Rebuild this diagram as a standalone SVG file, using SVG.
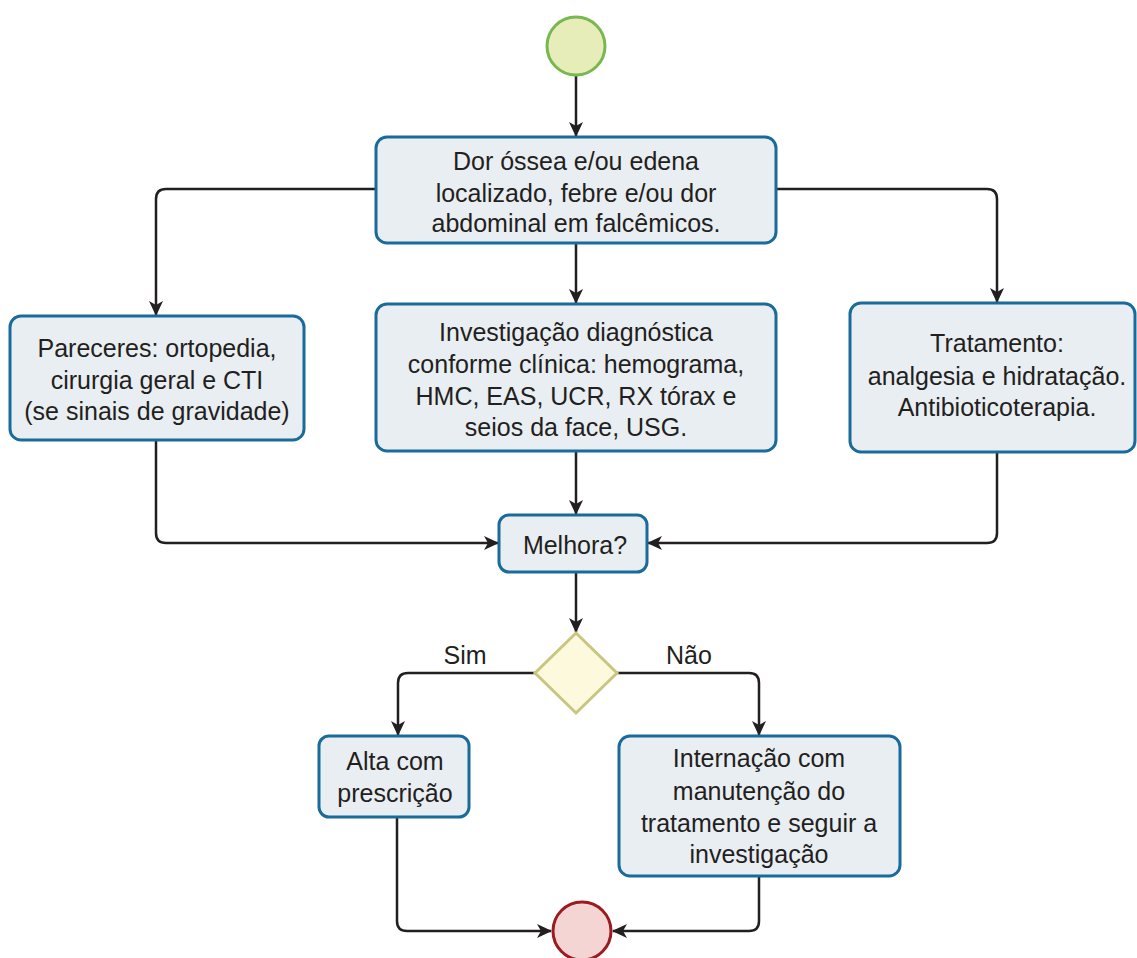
<svg xmlns="http://www.w3.org/2000/svg" width="1137" height="958" viewBox="0 0 1137 958">
  <defs>
    <marker id="arrow" markerUnits="userSpaceOnUse" markerWidth="16" markerHeight="14" refX="14" refY="7" orient="auto">
      <path d="M0,0 L15,7 L0,14 L4,7 Z" fill="#231f20"/>
    </marker>
    <style>
      .box { fill: #e9eef3; stroke: #1a6b9a; stroke-width: 3; }
      .lbl { font-family: "Liberation Sans", Arial, sans-serif; font-size: 25px; fill: #231f20; text-anchor: middle; }
      .edge { fill: none; stroke: #231f20; stroke-width: 2.5; marker-end: url(#arrow); }
      .line { fill: none; stroke: #231f20; stroke-width: 2.5; }
    </style>
  </defs>
  <rect width="1137" height="958" fill="#ffffff"/>

  <g id="connectors">
    <path class="edge" d="M576,76 V136"/>
    <path class="edge" d="M376,189 H166 Q156,189 156,199 V315"/>
    <path class="edge" d="M776,189 H987 Q997,189 997,199 V302"/>
    <path class="edge" d="M576,243 V303"/>
    <path class="edge" d="M156,440 V533 Q156,543 166,543 H498"/>
    <path class="edge" d="M997,452 V533 Q997,543 987,543 H648"/>
    <path class="edge" d="M576,451 V514"/>
    <path class="edge" d="M576,572 V632"/>
    <path class="edge" d="M535,673 H408 Q398,673 398,683 V735"/>
    <path class="edge" d="M617,673 H749 Q759,673 759,683 V735"/>
    <path class="edge" d="M397,817 V921 Q397,931 407,931 H551"/>
    <path class="edge" d="M759,876 V921 Q759,931 749,931 H613"/>
    <text class="lbl" x="465" y="664">Sim</text>
    <text class="lbl" x="689" y="664">Não</text>
  </g>

  <g id="start">
    <circle cx="576" cy="46" r="29" fill="#e6edb9" stroke="#77b84f" stroke-width="3"/>
  </g>

  <g id="sintomas">
    <rect class="box" x="376" y="137" width="400" height="106" rx="11"/>
    <text class="lbl" x="576" y="170">Dor óssea e/ou edena</text>
    <text class="lbl" x="576" y="202">localizado, febre e/ou dor</text>
    <text class="lbl" x="576" y="232">abdominal em falcêmicos.</text>
  </g>

  <g id="pareceres">
    <rect class="box" x="10" y="316" width="294" height="124" rx="11"/>
    <text class="lbl" x="157" y="357">Pareceres: ortopedia,</text>
    <text class="lbl" x="157" y="389">cirurgia geral e CTI</text>
    <text class="lbl" x="157" y="420">(se sinais de gravidade)</text>
  </g>

  <g id="investigacao">
    <rect class="box" x="376" y="304" width="400" height="147" rx="11"/>
    <text class="lbl" x="576" y="341">Investigação diagnóstica</text>
    <text class="lbl" x="576" y="373">conforme clínica: hemograma,</text>
    <text class="lbl" x="576" y="405">HMC, EAS, UCR, RX tórax e</text>
    <text class="lbl" x="576" y="436">seios da face, USG.</text>
  </g>

  <g id="tratamento">
    <rect class="box" x="850" y="303" width="285" height="149" rx="11"/>
    <text class="lbl" x="997" y="352">Tratamento:</text>
    <text class="lbl" x="997" y="385">analgesia e hidratação.</text>
    <text class="lbl" x="997" y="416">Antibioticoterapia.</text>
  </g>

  <g id="melhora">
    <rect class="box" x="499" y="515" width="148" height="57" rx="10"/>
    <text class="lbl" x="575" y="554">Melhora?</text>
  </g>

  <g id="decisao">
    <polygon points="576,633 617,673 576,713 535,673" fill="#fdf9dc" stroke="#c9c683" stroke-width="3"/>
  </g>

  <g id="alta">
    <rect class="box" x="319" y="736" width="150" height="81" rx="10"/>
    <text class="lbl" x="395" y="770">Alta com</text>
    <text class="lbl" x="395" y="802">prescrição</text>
  </g>

  <g id="internacao">
    <rect class="box" x="619" y="736" width="281" height="140" rx="11"/>
    <text class="lbl" x="759" y="767">Internação com</text>
    <text class="lbl" x="759" y="800">manutenção do</text>
    <text class="lbl" x="759" y="832">tratamento e seguir a</text>
    <text class="lbl" x="759" y="863">investigação</text>
  </g>

  <g id="end">
    <circle cx="582" cy="931" r="29" fill="#f5d5d3" stroke="#9b1c1f" stroke-width="3"/>
  </g>
</svg>
